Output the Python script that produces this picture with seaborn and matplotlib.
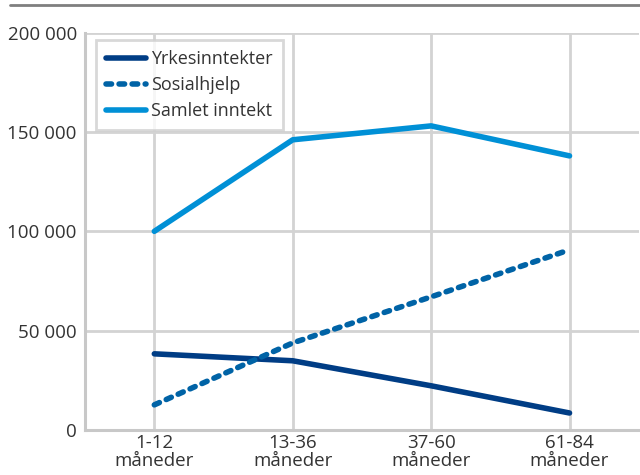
import numpy as np
import pandas as pd
import seaborn as sns
import matplotlib.pyplot as plt
from matplotlib.lines import Line2D
from matplotlib.ticker import FuncFormatter

# values
perioder = ['1-12\nmåneder', '13-36\nmåneder', '37-60\nmåneder', '61-84\nmåneder']
yrkesinntekter = [38300, 34800, 22200, 8500]
sosialhjelp = [12600, 43800, 67000, 90700]
samlet_inntekt = [100000, 146100, 153100, 138000]

serie_navn = ['Yrkesinntekter', 'Sosialhjelp', 'Samlet inntekt']
farger = ['#003d85', '#0063a6', '#0090d6']
strek = (1.0, 1.35)

data = pd.DataFrame({
    'Periode': perioder * 3,
    'Serie': np.repeat(serie_navn, len(perioder)),
    'Kroner': yrkesinntekter + sosialhjelp + samlet_inntekt,
})

sns.set_style('white')
plt.rcParams['font.family'] = ['Open Sans', 'DejaVu Sans']

fig = plt.figure(figsize=(6.4, 4.75), dpi=100)
ax = fig.add_axes([0.133, 0.095, 0.865, 0.836])

lw = 4.0
sns.lineplot(data=data, x='Periode', y='Kroner', hue='Serie', style='Serie',
             palette=dict(zip(serie_navn, farger)),
             dashes={'Yrkesinntekter': '', 'Sosialhjelp': strek, 'Samlet inntekt': ''},
             linewidth=lw, sort=False, legend=False, ax=ax)
for line in ax.get_lines():
    line.set_solid_capstyle('round')
    line.set_dash_capstyle('round')

ax.set_xlim(-0.5, 3.5)
ax.set_ylim(0, 200000)
ax.set_yticks([0, 50000, 100000, 150000, 200000])
ax.yaxis.set_major_formatter(FuncFormatter(lambda v, p: f'{int(v):,}'.replace(',', ' ')))
ax.grid(True, color='#d3d3d3', linewidth=2)
ax.set_axisbelow(True)
ax.set_xlabel('')
ax.set_ylabel('')
ax.tick_params(axis='y', length=0, labelsize=13.5, colors='#333333', pad=6)
ax.tick_params(axis='x', length=0, labelsize=13.5, colors='#333333', pad=3)
for lab in ax.get_xticklabels():
    lab.set_linespacing(1.0)
for side in ['top', 'right']:
    ax.spines[side].set_visible(False)
for side in ['left', 'bottom']:
    ax.spines[side].set_color('#c8c8c8')
    ax.spines[side].set_linewidth(2.2)

handles = [
    Line2D([], [], color=farger[0], lw=lw, solid_capstyle='round'),
    Line2D([], [], color=farger[1], lw=lw, dashes=strek, dash_capstyle='round'),
    Line2D([], [], color=farger[2], lw=lw, solid_capstyle='round'),
]
leg = ax.legend(handles, serie_navn, loc='upper left', bbox_to_anchor=(0.02, 0.982),
                fontsize=13, frameon=True, fancybox=False, handlelength=2.2,
                handletextpad=0.3, labelspacing=0.45, borderpad=0.55, borderaxespad=0)
leg.get_frame().set_edgecolor('#cfcfcf')
leg.get_frame().set_linewidth(2)
for t in leg.get_texts():
    t.set_color('#333333')

fig.add_artist(Line2D([0.016, 1.0], [0.989, 0.989], color='#7f7f7f', lw=2))

fig.savefig('out.png', dpi=100)
